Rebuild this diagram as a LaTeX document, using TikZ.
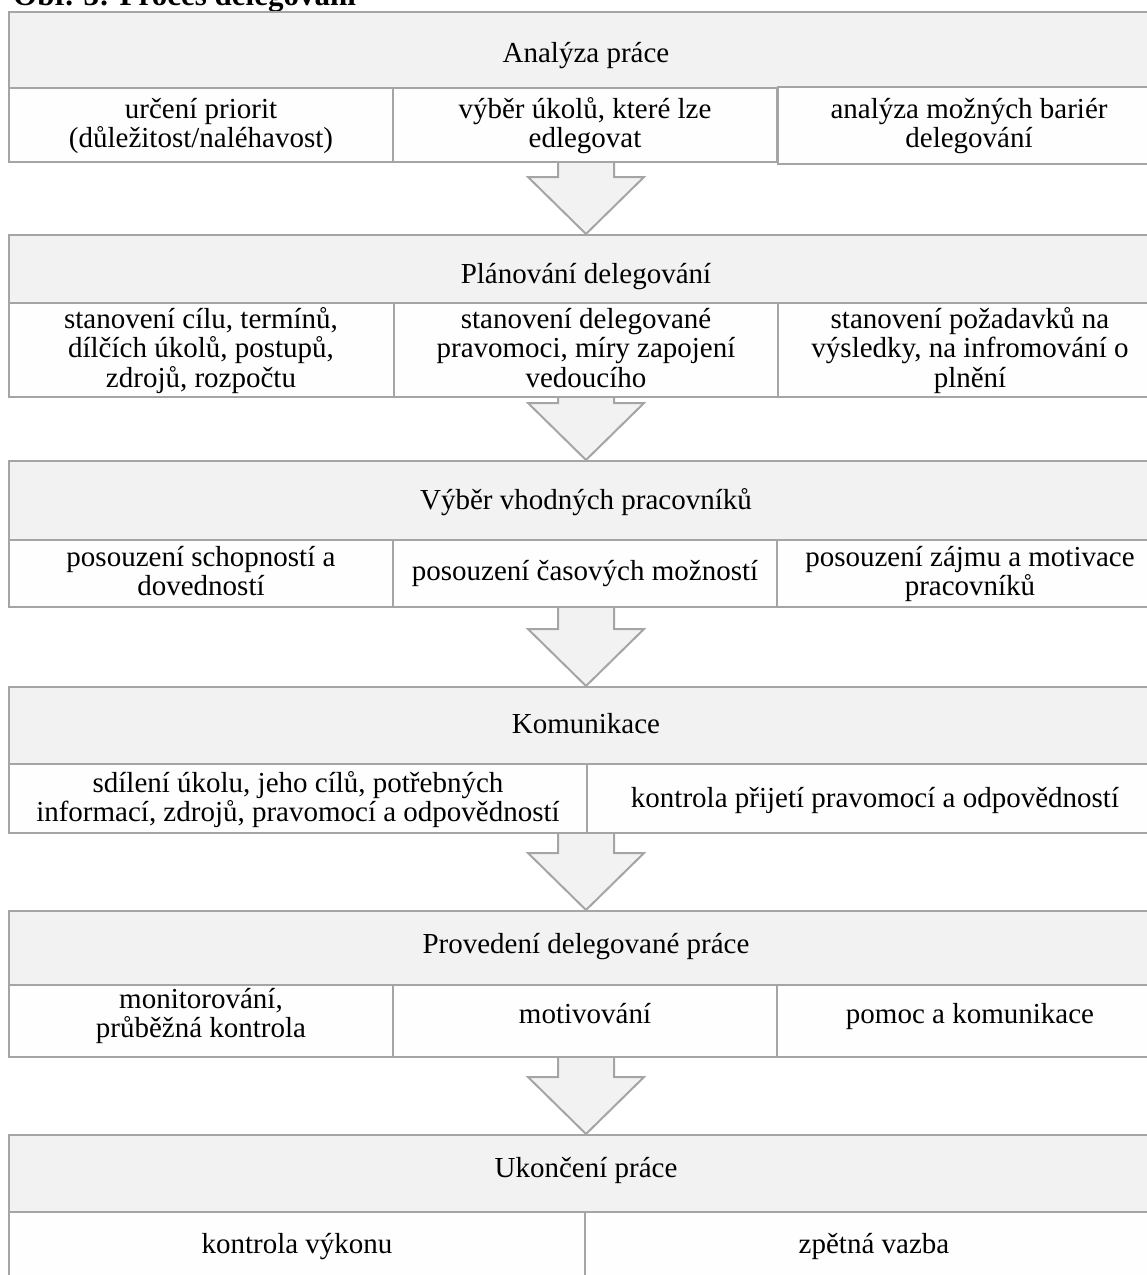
\documentclass[tikz,border=0pt]{standalone}
\usepackage{fontspec}
\setmainfont{Liberation Serif}
\usetikzlibrary{calc,fit}
\definecolor{hdrfill}{HTML}{F2F2F2}
\definecolor{lnc}{HTML}{A5A5A5}
\definecolor{subfill}{HTML}{FEFEFE}
\AtBeginDocument{\lineskiplimit=-50pt\relax}
\newcommand\delarrow[2]{%
  \coordinate (#1s) at (#2.north |- #1.south);
  \coordinate (#1t) at (#2.north);
  \path[arrowshape] ($(#1s)+(-28,0)$) -- ($(#1t)+(-28,-57)$) -- ($(#1t)+(-58,-57)$) -- (#1t)
    -- ($(#1t)+(58,-57)$) -- ($(#1t)+(28,-57)$) -- ($(#1s)+(28,0)$);
}
\begin{document}
\begin{tikzpicture}[x=1pt,y=-1pt,
  hdr/.style={draw=lnc, fill=hdrfill, line width=2pt, inner sep=0pt, rectangle},
  subbox/.style={draw=lnc, fill=subfill, line width=2pt, inner sep=0pt, rectangle},
  arrowshape/.style={draw=lnc, fill=hdrfill, line width=2pt},
  txt/.style={font=\fontsize{29}{29.5}\selectfont, align=flush center, anchor=base, inner sep=0pt},
  ttl/.style={font=\fontsize{31}{31}\selectfont\bfseries, anchor=base west, inner sep=0pt}]
\useasboundingbox (0,0) rectangle (1147,1275);
\clip (0,0) rectangle (1147,1275);
\fill[white] (0,0) rectangle (1147,1275);

\node[ttl] (title) at (13,5) {Obr. 3: Proces delegování};

% Section 1
\node[hdr, fit={(9,12) (1163,88)}] (h1) {};
\node[subbox, fit={(9,88) (393,162)}] (s1a) {};
\node[subbox, fit={(393,88) (777,162)}] (s1b) {};
\node[subbox, fit={(778,87) (1160,164)}] (s1c) {};
% Section 2
\node[hdr, fit={(9,235) (1163,303)}] (h2) {};
\node[subbox, fit={(9,303) (394,397)}] (s2a) {};
\node[subbox, fit={(394,303) (778,397)}] (s2b) {};
\node[subbox, fit={(778,303) (1163,397)}] (s2c) {};
% Section 3
\node[hdr, fit={(9,461) (1163,540)}] (h3) {};
\node[subbox, fit={(9,540) (393,607)}] (s3a) {};
\node[subbox, fit={(393,540) (777,607)}] (s3b) {};
\node[subbox, fit={(777,540) (1163,607)}] (s3c) {};
% Section 4
\node[hdr, fit={(9,687) (1163,764)}] (h4) {};
\node[subbox, fit={(9,764) (587,833)}] (s4a) {};
\node[subbox, fit={(587,764) (1163,833)}] (s4b) {};
% Section 5
\node[hdr, fit={(9,911) (1163,985)}] (h5) {};
\node[subbox, fit={(9,985) (393,1057)}] (s5a) {};
\node[subbox, fit={(393,985) (777,1057)}] (s5b) {};
\node[subbox, fit={(777,985) (1163,1057)}] (s5c) {};
% Section 6
\node[hdr, fit={(9,1135) (1163,1212)}] (h6) {};
\node[subbox, fit={(9,1212) (585,1290)}] (s6a) {};
\node[subbox, fit={(585,1212) (1163,1290)}] (s6b) {};

% Arrows
\delarrow{s1b}{h2}
\delarrow{s2b}{h3}
\delarrow{s3b}{h4}
\delarrow{s4a}{h5}
\delarrow{s5b}{h6}

% Texts
\node[txt, text width=600] (t1) at (586,62) {Analýza práce};
\node[txt, text width=376] (t1a) at (201,118) {určení priorit\\(důležitost/naléhavost)};
\node[txt, text width=376] (t1b) at (585,118) {výběr úkolů, které lze\\edlegovat};
\node[txt, text width=374] (t1c) at (969,118) {analýza možných bariér\\delegování};

\node[txt, text width=600] (t2) at (586,283) {Plánování delegování};
\node[txt, text width=377] (t2a) at (201,328) {stanovení cílu, termínů,\\dílčích úkolů, postupů,\\zdrojů, rozpočtu};
\node[txt, text width=376] (t2b) at (586,328) {stanovení delegované\\pravomoci, míry zapojení\\vedoucího};
\node[txt, text width=377] (t2c) at (970,328) {stanovení požadavků na\\výsledky, na infromování o\\plnění};

\node[txt, text width=600] (t3) at (586,509) {Výběr vhodných pracovníků};
\node[txt, text width=376] (t3a) at (201,566) {posouzení schopností a\\dovedností};
\node[txt, text width=376] (t3b) at (585,580) {posouzení časových možností};
\node[txt, text width=378] (t3c) at (970,566) {posouzení zájmu a motivace\\pracovníků};

\node[txt, text width=600] (t4) at (586,733) {Komunikace};
\node[txt, text width=570] (t4a) at (298,792) {sdílení úkolu, jeho cílů, potřebných\\informací, zdrojů, pravomocí a odpovědností};
\node[txt, text width=568] (t4b) at (875,807) {kontrola přijetí pravomocí a odpovědností};

\node[txt, text width=600] (t5) at (586,953) {Provedení delegované práce};
\node[txt, text width=376] (t5a) at (201,1008) {monitorování,\\průběžná kontrola};
\node[txt, text width=376] (t5b) at (585,1023) {motivování};
\node[txt, text width=378] (t5c) at (970,1023) {pomoc a komunikace};

\node[txt, text width=600] (t6) at (586,1177) {Ukončení práce};
\node[txt, text width=568] (t6a) at (297,1253) {kontrola výkonu};
\node[txt, text width=570] (t6b) at (874,1253) {zpětná vazba};
\end{tikzpicture}
\end{document}
